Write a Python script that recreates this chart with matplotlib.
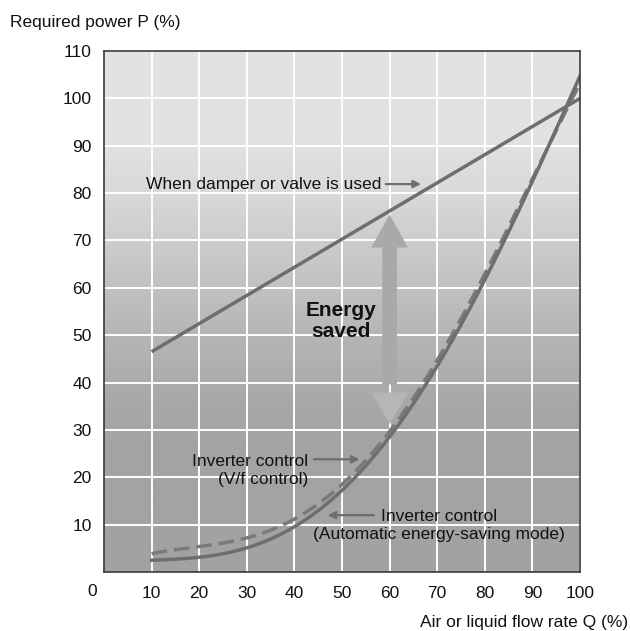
import numpy as np
import matplotlib
matplotlib.use("Agg")
import matplotlib.pyplot as plt
from matplotlib.patches import Polygon

plt.rcParams['font.family'] = ['Liberation Sans', 'DejaVu Sans']

# ---- data ----
flow = [10, 20, 30, 40, 50, 60, 70, 80, 90, 100]
damper_x = [10, 100]
damper_p = [46.5, 100]
inverter_auto = [2.7, 2.6, 5.1, 10.0, 17.6, 28.0, 43.1, 62.1, 82.6, 104.6]
inverter_vf = [4.1, 4.8, 7.3, 11.5, 18.9, 29.2, 44.3, 63.2, 83.3, 103.0]
x_ticks = [10, 20, 30, 40, 50, 60, 70, 80, 90, 100]
y_ticks = [10, 20, 30, 40, 50, 60, 70, 80, 90, 100, 110]

# energy-saved arrow (data units)
arrow_x = 60
arrow_top = 75.5
arrow_bottom = 31.2

fig = plt.figure(figsize=(6.3, 6.31), dpi=100)
ax = fig.add_axes([104/630, 1-572/631, 476/630, 521/631])
ax.set_xlim(0, 100)
ax.set_ylim(0, 110)

# background gradient
yy = np.linspace(0, 110, 400)
grad_y = [0, 25, 35, 50, 60, 70, 80, 92, 110]
grad_v = [0.635, 0.64, 0.655, 0.71, 0.755, 0.80, 0.85, 0.885, 0.885]
vals = np.interp(yy, grad_y, grad_v)
img = np.repeat(vals[::-1, None], 2, axis=1)
ax.imshow(img, extent=[0, 100, 0, 110], cmap='gray', vmin=0, vmax=1,
          aspect='auto', zorder=0, interpolation='bilinear')

# grid
for xv in x_ticks:
    ax.axvline(xv, color='white', lw=1.4, zorder=1)
for yv in y_ticks:
    ax.axhline(yv, color='white', lw=1.4, zorder=1)

# curves
xs = np.linspace(10, 100, 300)
def smooth(y):
    c = np.polyfit(flow, y, 4)
    return np.polyval(c, xs)

ax.plot(damper_x, damper_p, color='#6e6e6e', lw=2.5, zorder=3, solid_capstyle='butt')
ax.plot(xs, smooth(inverter_vf), color='#7a7a7a', lw=2.5, zorder=3,
        dashes=(4.5, 2.0))
ax.plot(xs, smooth(inverter_auto), color='#6e6e6e', lw=2.5, zorder=4)

# energy saved arrow
hw = 3.85   # head half width
sw = 1.55   # shaft half width
up_base = 68.5
down_base = 37.9
shaft_bottom = 39.6
up = Polygon([[arrow_x - sw, shaft_bottom], [arrow_x - sw, up_base],
              [arrow_x - hw, up_base], [arrow_x, arrow_top],
              [arrow_x + hw, up_base], [arrow_x + sw, up_base],
              [arrow_x + sw, shaft_bottom]],
             closed=True, facecolor='#a9a9a9', edgecolor='none', zorder=2)
ax.add_patch(up)
down = Polygon([[arrow_x - hw, down_base], [arrow_x + hw, down_base],
                [arrow_x, arrow_bottom]],
               closed=True, facecolor='#b6b6b6', edgecolor='none', zorder=2)
ax.add_patch(down)

# annotations
fs = 12.5
acol = '#6e6e6e'
tcol = '#111111'
ax.text(58.2, 81.9, 'When damper or valve is used', ha='right', va='center',
        fontsize=fs, color=tcol, zorder=5)
ax.annotate('', xy=(66.6, 81.9), xytext=(59.2, 81.9),
            arrowprops=dict(arrowstyle='-|>', color=acol, lw=1.6,
                            mutation_scale=11, shrinkA=0, shrinkB=0), zorder=5)

ax.text(49.8, 53.0, 'Energy\nsaved', ha='center', va='center', fontsize=15,
        fontweight='bold', color=tcol, linespacing=1.15, zorder=5)

ax.text(42.9, 21.5, 'Inverter control\n(V/f control)', ha='right', va='center',
        fontsize=fs, color=tcol, linespacing=1.25, zorder=5)
ax.annotate('', xy=(53.7, 23.8), xytext=(44.1, 23.8),
            arrowprops=dict(arrowstyle='-|>', color=acol, lw=1.6,
                            mutation_scale=11, shrinkA=0, shrinkB=0), zorder=5)

ax.text(70.3, 9.8, 'Inverter control\n(Automatic energy-saving mode)', ha='center',
        va='center', fontsize=fs, color=tcol, linespacing=1.2, zorder=5)
ax.annotate('', xy=(47.0, 12.0), xytext=(56.7, 12.0),
            arrowprops=dict(arrowstyle='-|>', color=acol, lw=1.6,
                            mutation_scale=11, shrinkA=0, shrinkB=0), zorder=5)

# axes styling
ax.set_xticks(x_ticks)
ax.set_yticks(y_ticks)
ax.set_xticklabels([str(v) for v in x_ticks])
ax.set_yticklabels([str(v) for v in y_ticks])
ax.tick_params(axis='both', length=0, labelsize=fs, colors=tcol)
ax.tick_params(axis='x', pad=10)
ax.tick_params(axis='y', pad=9)
for s in ax.spines.values():
    s.set_color('#3a3a3a')
    s.set_linewidth(1.2)
    s.set_zorder(6)

fig.text(92/630, 1-592/631, '0', ha='center', va='center', fontsize=fs, color=tcol)
fig.text(10/630, 1-22/631, 'Required power P (%)', ha='left', va='center',
         fontsize=fs, color=tcol)
fig.text(628/630, 1-623/631, 'Air or liquid flow rate Q (%)', ha='right', va='center',
         fontsize=fs, color=tcol)

fig.savefig('out.png', dpi=100)
